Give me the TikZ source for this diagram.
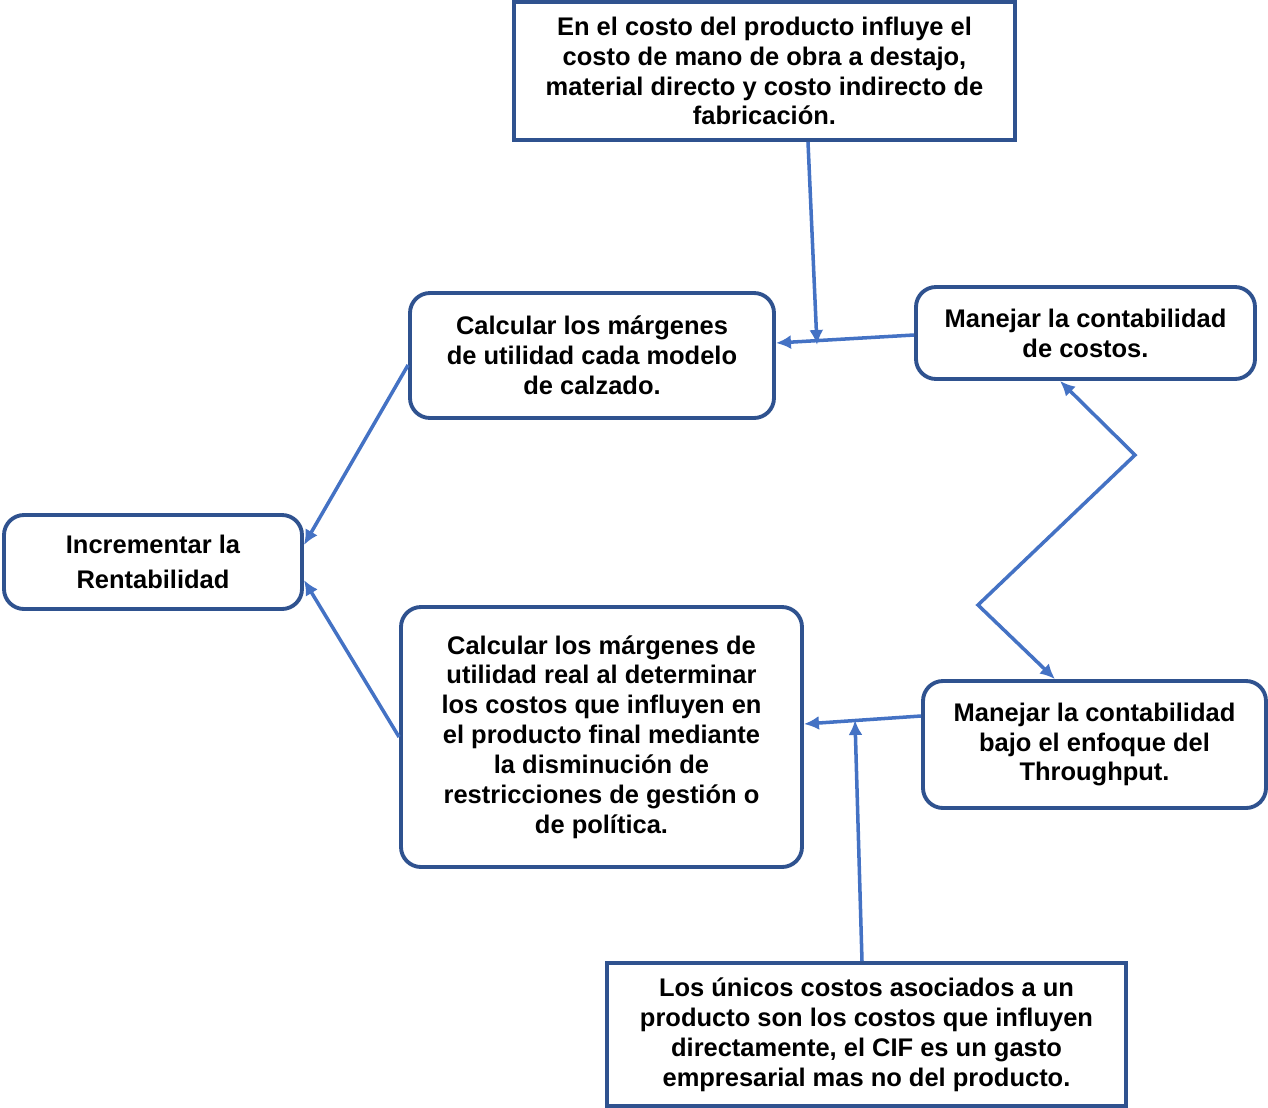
\documentclass[tikz,border=0pt]{standalone}
\usepackage{fontspec}
\setmainfont{Liberation Sans}
\usetikzlibrary{arrows.meta}
\definecolor{boxblue}{HTML}{2F528F}
\definecolor{arrowblue}{HTML}{4472C4}
\begin{document}
\begin{tikzpicture}[
        font=\bfseries\fontsize{14.5}{17}\selectfont,
        box/.style={draw=boxblue, line width=2.2pt, align=center, inner sep=2pt},
        roundbox/.style={box, rounded corners=0.4cm},
        tip/.tip={Latex[length=3mm,width=2.8mm]},
        link/.style={draw=arrowblue, line width=2pt, -tip}
    ]
        \useasboundingbox (0,0) rectangle (25.36,-22.16);
        % boxes
        \node[box, minimum width=10.02cm, minimum height=2.76cm] (costo) at (15.29,-1.42)
            {En el costo del producto influye el\\costo de mano de obra a destajo,\\material directo y costo indirecto de\\fabricación.};
        \node[roundbox, minimum width=7.28cm, minimum height=2.5cm] (margen) at (11.84,-7.11)
            {Calcular los márgenes\\de utilidad cada modelo\\de calzado.};
        \node[roundbox, minimum width=6.78cm, minimum height=1.84cm] (contab) at (21.71,-6.66)
            {Manejar la contabilidad\\de costos.};
        \node[roundbox, minimum width=5.96cm, minimum height=1.88cm, font=\bfseries\fontsize{14.5}{19.5}\selectfont] (renta) at (3.06,-11.24)
            {Incrementar la\\Rentabilidad};
        \node[roundbox, minimum width=8.02cm, minimum height=5.2cm] (real) at (12.03,-14.74)
            {Calcular los márgenes de\\utilidad real al determinar\\los costos que influyen en\\el producto final mediante\\la disminución de\\restricciones de gestión o\\de política.};
        \node[roundbox, minimum width=6.86cm, minimum height=2.54cm] (through) at (21.89,-14.89)
            {Manejar la contabilidad\\bajo el enfoque del\\Throughput.};
        \node[box, minimum width=10.38cm, minimum height=2.86cm] (unicos) at (17.33,-20.69)
            {Los únicos costos asociados a un\\producto son los costos que influyen\\directamente, el CIF es un gasto\\empresarial mas no del producto.};
        % junctions
        \coordinate (j1) at (16.34,-6.90);
        \coordinate (j2) at (17.10,-14.40);
        % connectors
        \draw[link] ([yshift=-0.04cm]contab.west) -- ([yshift=0.25cm]margen.east);
        \draw[link] ([xshift=0.87cm]costo.south) -- (j1);
        \draw[link] ([yshift=-0.19cm]margen.west) -- ([yshift=0.34cm]renta.east);
        \draw[link] (real.west) -- ([yshift=-0.36cm]renta.east);
        \draw[link] ([yshift=0.57cm]through.west) -- ([yshift=0.26cm]real.east);
        \draw[link] ([xshift=-0.09cm]unicos.north) -- (j2);
        \draw[link, tip-tip]
            ([xshift=-0.51cm]contab.south) -- (22.70,-9.10) -- (19.56,-12.10) -- ([xshift=-0.79cm]through.north);
\end{tikzpicture}
\end{document}
